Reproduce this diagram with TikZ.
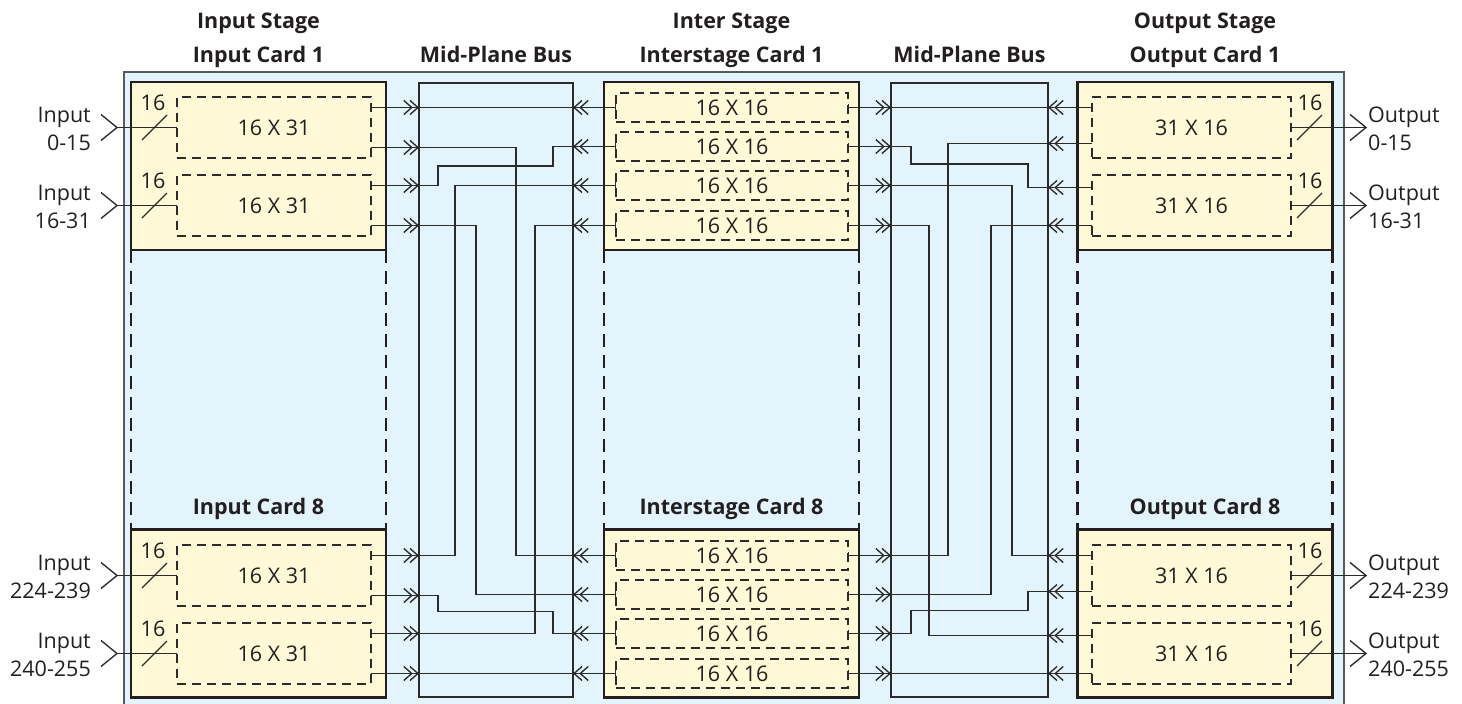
\documentclass[tikz,border=0pt]{standalone}
\usepackage{fontspec}
\setmainfont{Open Sans}
\usetikzlibrary{arrows.meta,calc,positioning}
\definecolor{swBlue}{HTML}{E3F4FC}
\definecolor{swCard}{HTML}{FFF9D8}
\definecolor{swInk}{HTML}{231F20}
\definecolor{swWire}{HTML}{2B2B2B}
\definecolor{swFrame}{HTML}{5A5A5A}
\newcommand{\swsize}{\fontsize{21.5pt}{28pt}\selectfont}

\tikzset{
  frame/.style={draw=swFrame, line width=1.6pt, fill=swBlue, inner sep=0pt, outer sep=0pt},
  card/.style={draw=swInk, line width=2.6pt, fill=swCard, inner sep=0pt, outer sep=0pt,
    minimum width=255pt, minimum height=168pt},
  sub/.style={draw=swWire, line width=1.1pt, dash pattern=on 9pt off 6pt, inner sep=0pt, outer sep=0pt},
  cut/.style={draw=swInk, line width=2.6pt, dash pattern=on 13pt off 8pt},
  bus/.style={draw=swWire, line width=1.3pt, inner sep=0pt, outer sep=0pt, minimum height=614pt},
  wire/.style={draw=swWire, line width=1.35pt},
  tobus/.style={-{Straight Barb[length=8pt,width=14pt,sep=-3.5pt]Straight Barb[length=8pt,width=14pt]}},
  frombox/.style={{Bar[width=7pt]}-{Straight Barb[length=8pt,width=14pt,sep=-3.5pt]Straight Barb[length=8pt,width=14pt]}},
  hdr/.style={font=\swsize\bfseries, anchor=base, inner sep=0pt},
  pinlab/.style={inner sep=0pt},
}

\begin{document}
\begin{tikzpicture}[x=1pt, y=-1pt, font=\swsize, text=swInk]
  \useasboundingbox (0,0) rectangle (1462,704);

  % chassis
  \node[frame, minimum width=1220pt, minimum height=638pt] (chassis) at (734,391) {};

  % cards, stage titles and card cuts
  \foreach \nm/\x/\title in {in/258.5/Input, is/731.5/Interstage, out/1205/Output}{
    \node[card] (\nm card1) at (\x,166) {};
    \node[card] (\nm card8) at (\x,613.5) {};
    \draw[cut] (\nm card1.south west) -- (\nm card8.north west);
    \draw[cut] (\nm card1.south east) -- (\nm card8.north east);
    \node[hdr] (\nm title1) at (\x,62) {\title\ Card 1};
    \node[hdr] (\nm title8) at (\x,514) {\title\ Card 8};
  }
  \node[hdr] (instage) at (258.5,28) {Input Stage};
  \node[hdr] (isstage) at (731.5,28) {Inter Stage};
  \node[hdr] (outstage) at (1205,28) {Output Stage};

  % mid-plane buses
  \node[bus, minimum width=154pt] (bus1) at (496,390) {};
  \node[bus, minimum width=157pt] (bus2) at (969.5,390) {};
  \node[hdr] (bus1title) at (496,62) {Mid-Plane Bus};
  \node[hdr] (bus2title) at (969.5,62) {Mid-Plane Bus};

  % switch elements
  \foreach \nm/\y in {in1a/127.5, in1b/205.5, in8a/575.5, in8b/653.5}
    \node[sub, minimum width=194pt, minimum height=61pt] (\nm) at (274,\y) {16 X 31};
  \foreach \nm/\y in {is1a/107.5, is1b/146.5, is1c/185.5, is1d/225.5, is8a/555.5, is8b/594.5, is8c/633.5, is8d/673.5}
    \node[sub, minimum width=232pt, minimum height=29pt] (\nm) at (732,\y) {16 X 16};
  \foreach \nm/\y in {out1a/127.5, out1b/205.5, out8a/575.5, out8b/653.5}
    \node[sub, minimum width=199pt, minimum height=61pt] (\nm) at (1191.5,\y) {31 X 16};

  % pins
  \foreach \nm/\k/\kk in {in1a/1/2, in1b/3/4, in8a/5/6, in8b/7/8}{
    \coordinate (ip\k) at ($(\nm.east)+(0,-20)$);
    \coordinate (ip\kk) at ($(\nm.east)+(0,20)$);
  }
  \foreach \nm/\k/\kk/\up/\dn in {out1a/1/2/20/16, out1b/3/4/18/20, out8a/5/6/20/16, out8b/7/8/18/20}{
    \coordinate (op\k) at ($(\nm.west)+(0,-\up)$);
    \coordinate (op\kk) at ($(\nm.west)+(0,\dn)$);
  }
  \foreach \k in {1,...,8}{
    \coordinate (a\k) at (ip\k -| bus1.west);
    \coordinate (d\k) at (op\k -| bus2.east);
    \draw[wire, tobus] (ip\k) -- (a\k);
    \draw[wire, tobus] (op\k) -- (d\k);
  }
  \foreach \nm/\k in {is1a/1, is1b/2, is1c/3, is1d/4, is8a/5, is8b/6, is8c/7, is8d/8}{
    \coordinate (b\k) at (\nm.west -| bus1.east);
    \coordinate (c\k) at (\nm.east -| bus2.west);
    \draw[wire, frombox] (\nm.west) -- (b\k);
    \draw[wire, frombox] (\nm.east) -- (c\k);
  }

  % bus 1 wiring
  \draw[wire] (a1) -- (b1);
  \draw[wire] (a2) -| ($(b5)+(-57,0)$) -- (b5);
  \draw[wire] (b2) -| ($(b2)+(-20,19.5)$) -| ($(a3)+(19,0)$) -- (a3);
  \draw[wire] (b3) -| ($(a5)+(36,0)$) -- (a5);
  \draw[wire] (a4) -| ($(b6)+(-97,0)$) -- (b6);
  \draw[wire] (b4) -| ($(a7)+(116,0)$) -- (a7);
  \draw[wire] (a6) -| ($(a6)+(19,16)$) -| ($(b7)+(-20,0)$) -- (b7);
  \draw[wire] (a8) -- (b8);

  % bus 2 wiring
  \draw[wire] (c1) -- (d1);
  \draw[wire] (c2) -| ($(c2)+(20,17.5)$) -| ($(d3)+(-20,0)$) -- (d3);
  \draw[wire] (d2) -| ($(c5)+(57,0)$) -- (c5);
  \draw[wire] (c3) -| ($(d5)+(-36,0)$) -- (d5);
  \draw[wire] (c4) -| ($(d7)+(-119,0)$) -- (d7);
  \draw[wire] (d4) -| ($(c6)+(100,0)$) -- (c6);
  \draw[wire] (d6) -| ($(d6)+(-20,19)$) -| ($(c7)+(20,0)$) -- (c7);
  \draw[wire] (c8) -- (d8);

  % inputs
  \foreach \nm/\rng in {in1a/0-15, in1b/16-31, in8a/224-239, in8b/240-255}{
    \coordinate (\nm jack) at ($(\nm.west)+(-60,0)$);
    \draw[wire] (\nm jack) -- (\nm.west);
    \draw[wire] ($(\nm jack)+(-16,-13)$) -- (\nm jack) -- ($(\nm jack)+(-16,13)$);
    \draw[wire] ($(\nm.west)+(-35,12.5)$) -- ($(\nm.west)+(-10,-12.5)$);
    \node[pinlab, anchor=base] (\nm width) at ($(\nm.west)+(-24,-17.5)$) {16};
    \node[pinlab, anchor=east, align=right] (\nm label) at ($(\nm jack)+(-26,1)$) {Input\\\rng};
  }

  % outputs
  \foreach \nm/\rng in {out1a/0-15, out1b/16-31, out8a/224-239, out8b/240-255}{
    \coordinate (\nm jack) at ($(\nm.east)+(75,0)$);
    \draw[wire] (\nm.east) -- (\nm jack);
    \draw[wire] ($(\nm jack)+(-16,-13)$) -- (\nm jack) -- ($(\nm jack)+(-16,13)$);
    \draw[wire] ($(\nm.east)+(6,12.5)$) -- ($(\nm.east)+(31,-12.5)$);
    \node[pinlab, anchor=base] (\nm width) at ($(\nm.east)+(19,-17.5)$) {16};
    \node[pinlab, anchor=west, align=left] (\nm label) at ($(\nm jack)+(2,1)$) {Output\\\rng};
  }
\end{tikzpicture}
\end{document}
